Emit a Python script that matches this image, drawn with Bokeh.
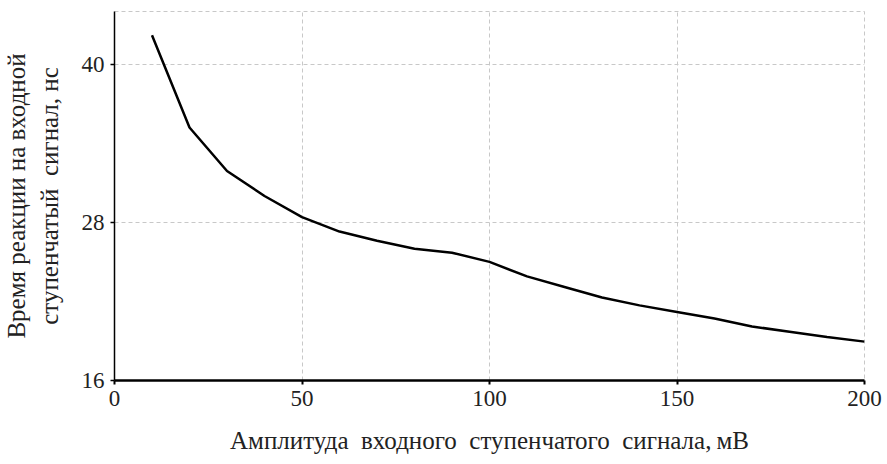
from bokeh.plotting import figure
from bokeh.embed import file_html
from bokeh.resources import INLINE
from bokeh.models import FixedTicker, Range1d

amplitude_mv = [10, 20, 30, 40, 50, 60, 70, 80, 90, 100,
                110, 120, 130, 140, 150, 160, 170, 180, 190, 200]
response_ns = [42.2, 35.2, 31.9, 30.0, 28.4, 27.3, 26.6, 26.0, 25.7, 25.0,
               23.9, 23.1, 22.3, 21.7, 21.2, 20.7, 20.1, 19.7, 19.3, 18.95]
x_ticks = [0, 50, 100, 150, 200]
y_ticks = [16, 28, 40]
NB = "\u00a0"
x_title = ("Амплитуда" + NB + " входного" + NB + " ступенчатого" + NB
           + " сигнала,\u2009мВ")
y_title = ("Время реакции на входной\n"
           + "ступенчатый" + NB + " сигнал, нс")

FONT = "Liberation Serif"

p = figure(width=887, height=464, output_backend="svg", toolbar_location=None,
           x_range=Range1d(0, 200), y_range=Range1d(16, 44),
           min_border_left=114, min_border_right=23, min_border_top=11, min_border_bottom=84)
p.background_fill_color = "white"
p.border_fill_color = "white"
p.outline_line_color = "#c8c8c8"
p.outline_line_dash = "4 3"
p.outline_line_width = 1

p.line(amplitude_mv, response_ns, line_color="black", line_width=2.5)

for ax in (p.xaxis[0], p.yaxis[0]):
    ax.major_label_text_font = FONT
    ax.major_label_text_font_size = "23px"
    ax.major_label_text_color = "#222222"
    ax.axis_label_text_font = FONT
    ax.axis_label_text_font_size = "25px"
    ax.axis_label_text_font_style = "normal"
    ax.axis_label_text_color = "#222222"
    ax.axis_line_color = "black"
    ax.major_tick_line_color = "black"
    ax.minor_tick_line_color = None
    ax.major_tick_in = 0
    ax.major_tick_out = 4

p.xaxis[0].ticker = FixedTicker(ticks=x_ticks)
p.yaxis[0].ticker = FixedTicker(ticks=y_ticks)
p.xaxis[0].axis_line_width = 2.5
p.yaxis[0].axis_line_width = 1.5
p.xaxis[0].major_tick_line_width = 2
p.yaxis[0].major_tick_line_width = 1.5
p.xaxis[0].axis_label = x_title
p.yaxis[0].axis_label = y_title
p.yaxis[0].axis_label_text_line_height = 1.2
p.xaxis[0].major_label_standoff = 6
p.xaxis[0].axis_label_standoff = 18
p.yaxis[0].major_label_standoff = 6
p.yaxis[0].axis_label_standoff = 16

for g in (p.xgrid[0], p.ygrid[0]):
    g.grid_line_color = "#c8c8c8"
    g.grid_line_dash = "4 3"
    g.grid_line_width = 1

open("out.html", "w").write(file_html(p, INLINE))
